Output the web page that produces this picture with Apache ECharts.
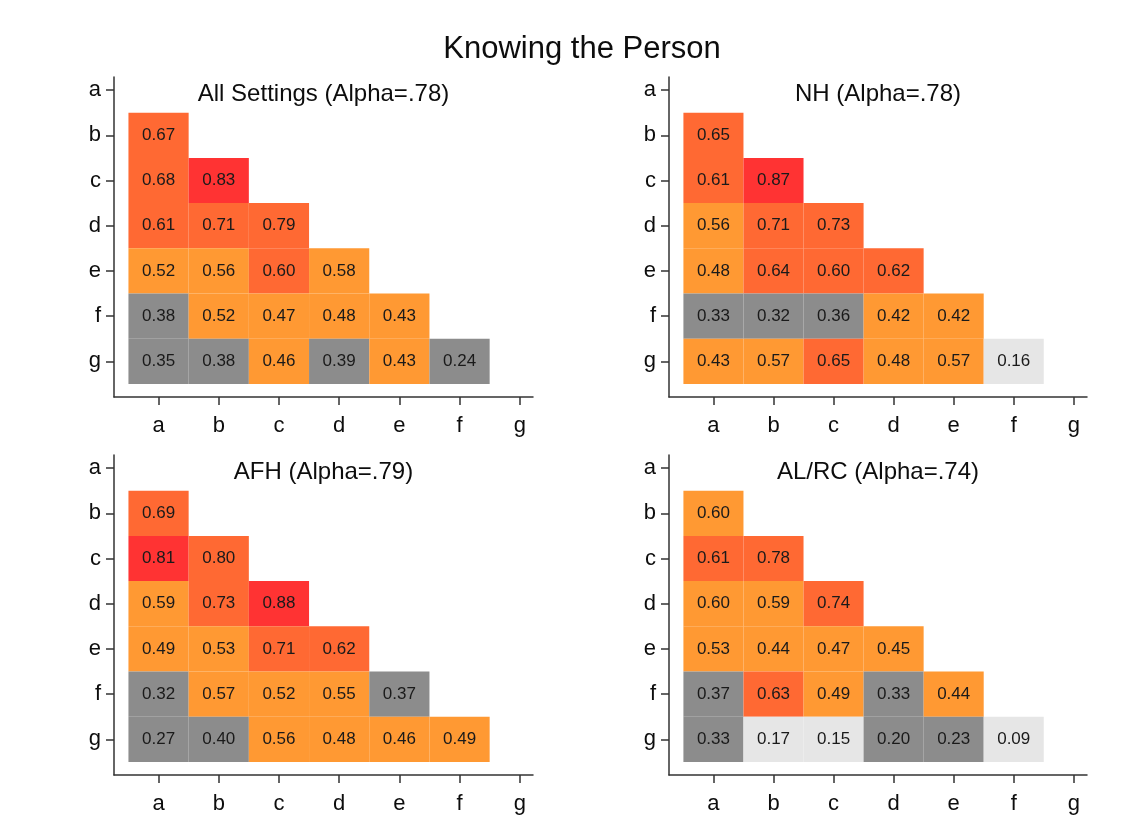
<!DOCTYPE html>
<html>
<head>
<meta charset="utf-8">
<script src="https://cdn.jsdelivr.net/npm/echarts@6/dist/echarts.min.js"></script>
<style>
  html, body { margin: 0; padding: 0; background: #fff; }
  #chart { width: 1145px; height: 831px; }
</style>
</head>
<body>
<div id="chart"></div>
<script>
// Item labels shared by both axes of every panel
const items = ['a', 'b', 'c', 'd', 'e', 'f', 'g'];

// Lower-triangle correlations, one row per item b..g (columns start at a)
const allSettings = [
  [0.67],
  [0.68, 0.83],
  [0.61, 0.71, 0.79],
  [0.52, 0.56, 0.602, 0.58],
  [0.38, 0.52, 0.47, 0.48, 0.43],
  [0.35, 0.38, 0.46, 0.39, 0.43, 0.24]
];
const nh = [
  [0.65],
  [0.61, 0.87],
  [0.56, 0.71, 0.73],
  [0.48, 0.64, 0.603, 0.62],
  [0.33, 0.32, 0.36, 0.42, 0.42],
  [0.43, 0.57, 0.65, 0.48, 0.57, 0.16]
];
const afh = [
  [0.69],
  [0.81, 0.798],
  [0.59, 0.73, 0.88],
  [0.49, 0.53, 0.71, 0.62],
  [0.32, 0.57, 0.52, 0.55, 0.37],
  [0.27, 0.398, 0.56, 0.48, 0.46, 0.49]
];
const alrc = [
  [0.598],
  [0.61, 0.78],
  [0.597, 0.59, 0.74],
  [0.53, 0.44, 0.47, 0.45],
  [0.37, 0.63, 0.49, 0.33, 0.44],
  [0.33, 0.17, 0.15, 0.20, 0.23, 0.09]
];

const panelTitles = [
  'All Settings (Alpha=.78)',
  'NH (Alpha=.78)',
  'AFH (Alpha=.79)',
  'AL/RC (Alpha=.74)'
];
const panelData = [allSettings, nh, afh, alrc];

// Colour bins: lower bound of each bin and its fill
const binEdges = [0.2, 0.4, 0.6, 0.8];
const binColors = ['#e6e6e6', '#8c8c8c', '#ff9933', '#ff6933', '#ff3333'];

const FONT = "'Liberation Sans', Arial, sans-serif";

function binColor(v) {
  let i = 0;
  while (i < binEdges.length && v >= binEdges[i]) i++;
  return binColors[i];
}

function toCells(rows) {
  const out = [];
  rows.forEach((row, r) => {
    row.forEach((v, c) => out.push([c, r + 1, v]));
  });
  return out;
}

// Panel frames: [left, top, width, height]
const frames = [
  [114, 77, 419, 320],
  [669, 77, 418, 320],
  [114, 455, 419, 320],
  [669, 455, 418, 320]
];

const grids = [], xAxes = [], yAxes = [], series = [], titles = [];

titles.push({
  text: 'Knowing the Person',
  left: 582, top: 34, textAlign: 'center', padding: 0,
  textStyle: { fontFamily: FONT, fontSize: 31, fontWeight: 'normal', color: '#0d0d0d' }
});

const axisLineStyle = { color: '#333', width: 1.5 };
const ticks = items.map((_, i) => i);

frames.forEach((f, k) => {
  grids.push({ left: f[0], top: f[1], width: f[2], height: f[3] });
  xAxes.push({
    type: 'value', gridIndex: k, min: -0.74, max: 6.22, position: 'bottom',
    axisLine: { show: true, onZero: false, lineStyle: axisLineStyle },
    axisTick: { show: true, length: 8, lineStyle: axisLineStyle, customValues: ticks },
    axisLabel: {
      customValues: ticks, margin: 18,
      formatter: v => items[Math.round(v)],
      fontFamily: FONT, fontSize: 22, color: '#0d0d0d'
    },
    splitLine: { show: false }
  });
  yAxes.push({
    type: 'value', gridIndex: k, inverse: true, min: -0.29, max: 6.79, position: 'left',
    axisLine: { show: true, onZero: false, lineStyle: axisLineStyle },
    axisTick: { show: true, length: 8, lineStyle: axisLineStyle, customValues: ticks },
    axisLabel: {
      customValues: ticks, margin: 13,
      formatter: v => items[Math.round(v)],
      fontFamily: FONT, fontSize: 22, color: '#0d0d0d'
    },
    splitLine: { show: false }
  });
  titles.push({
    text: panelTitles[k],
    left: f[0] + f[2] / 2, top: f[1] + 5, textAlign: 'center', padding: 0,
    textStyle: { fontFamily: FONT, fontSize: 24, fontWeight: 'normal', color: '#0d0d0d' }
  });
  series.push({
    type: 'custom',
    xAxisIndex: k, yAxisIndex: k,
    data: toCells(panelData[k]),
    encode: { x: 0, y: 1 },
    renderItem: function (params, api) {
      const x = api.value(0), y = api.value(1), v = api.value(2);
      const p0 = api.coord([x - 0.5, y - 0.5]);
      const p1 = api.coord([x + 0.5, y + 0.5]);
      const rx = Math.min(p0[0], p1[0]), ry = Math.min(p0[1], p1[1]);
      const w = Math.abs(p1[0] - p0[0]), h = Math.abs(p1[1] - p0[1]);
      return {
        type: 'group',
        children: [
          {
            type: 'rect',
            shape: { x: rx, y: ry, width: w, height: h },
            style: { fill: binColor(v) }
          },
          {
            type: 'text',
            x: rx + w / 2, y: ry + h / 2,
            style: {
              text: v.toFixed(2),
              align: 'center', verticalAlign: 'middle',
              font: '17px ' + FONT,
              fill: '#1a1a1a'
            }
          }
        ]
      };
    }
  });
});

const chart = echarts.init(document.getElementById('chart'), null, { renderer: 'canvas' });
chart.setOption({
  backgroundColor: '#fff',
  animation: false,
  title: titles,
  grid: grids,
  xAxis: xAxes,
  yAxis: yAxes,
  series: series
});
</script>
</body>
</html>
